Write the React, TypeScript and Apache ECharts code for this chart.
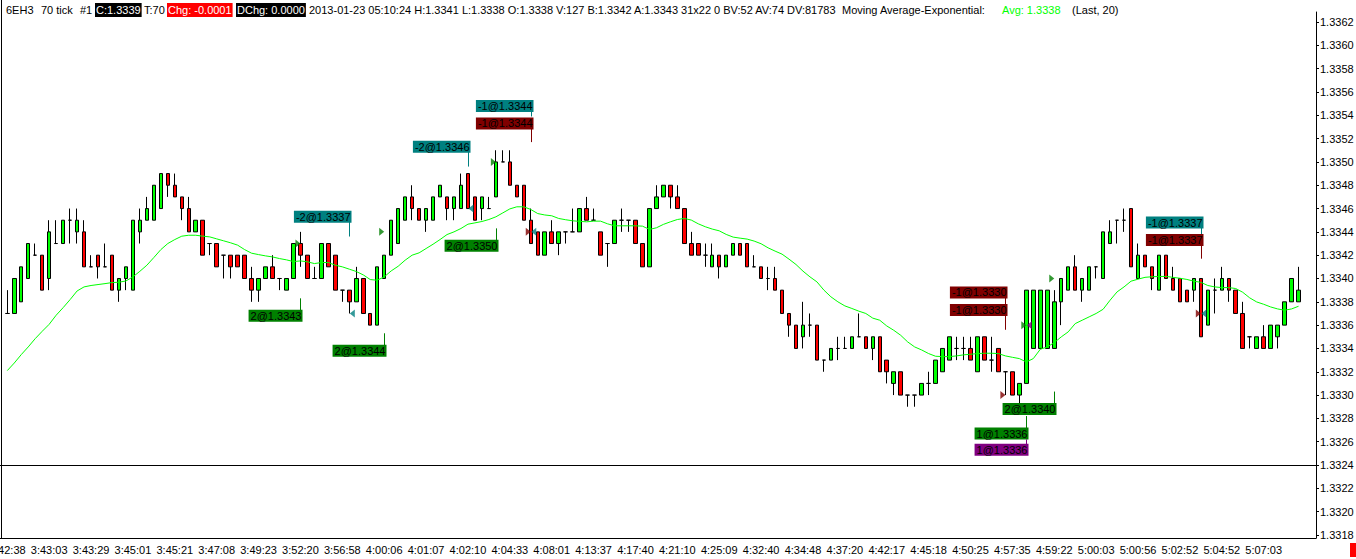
import React, { useEffect, useRef } from "react";
import * as echarts from "echarts";

// prices are stored as pips above BASE (1 pip = 0.0001)
const BASE = 1.33;
const PIP = 0.0001;
const px = (p: number) => +(BASE + p * PIP).toFixed(5);

const opens = [
  37, 37, 38, 40, 42, 42, 40, 43, 43, 45, 44, 44, 41, 42, 41, 42, 39, 40, 39, 44,
  45, 45, 46, 49, 48, 47, 46, 44, 45, 43, 43, 42, 42, 42, 42, 40, 39, 40, 41, 40,
  39, 40, 43, 42, 40, 40, 43, 42, 39, 39, 38, 40, 37, 36, 40, 42, 43, 45, 47, 46,
  45, 45, 47, 47, 46, 46, 49, 47, 46, 46, 47, 50, 50, 48, 48, 45, 44, 42, 44, 43,
  44, 44, 44, 46, 45, 44, 43, 43, 45, 45, 45, 43, 41, 46, 47, 48, 47, 46, 43, 43,
  42, 41, 42, 41, 42, 43, 43, 41, 41, 40, 40, 39, 37, 36, 35, 36, 36, 33, 33, 34,
  34, 34, 35, 35, 34, 35, 33, 31, 32, 30, 30, 30, 31, 31, 32, 33, 34, 34, 34, 32,
  35, 33, 34, 32, 32, 30, 31, 34, 34, 34, 34, 38, 39, 41, 39, 39, 41, 40, 43, 45,
  45, 46, 40, 42, 41, 39, 42, 40, 40, 39, 39, 40, 36, 39, 39, 40, 39, 37, 35, 34,
  35, 34, 35, 36, 38, 38,
];
const highs = [
  39, 40, 41, 43, 43, 42, 45, 45, 45, 46, 46, 45, 42, 42, 43, 42, 40, 41, 45, 46,
  47, 48, 49, 49, 49, 47, 47, 45, 45, 43, 43, 42, 42, 42, 42, 41, 40, 41, 42, 40,
  40, 43, 44, 42, 41, 43, 43, 42, 39, 39, 41, 40, 37, 41, 42, 45, 46, 47, 48, 46,
  46, 47, 48, 47, 47, 49, 49, 47, 47, 47, 51, 51, 51, 48, 48, 46, 44, 44, 45, 44,
  44, 46, 46, 47, 46, 44, 43, 45, 46, 45, 45, 43, 46, 48, 48, 48, 48, 46, 44, 43,
  43, 43, 42, 42, 43, 43, 43, 42, 41, 41, 41, 39, 37, 36, 38, 37, 36, 33, 34, 35,
  35, 35, 37, 35, 35, 35, 33, 32, 32, 30, 30, 31, 32, 33, 34, 35, 35, 35, 35, 35,
  35, 35, 34, 32, 32, 31, 39, 39, 39, 39, 39, 40, 41, 42, 40, 41, 41, 44, 45, 45,
  46, 46, 43, 42, 41, 42, 42, 41, 40, 39, 40, 40, 39, 40, 41, 40, 39, 38, 35, 35,
  36, 36, 36, 38, 40, 41,
];
const lows = [
  37, 37, 38, 40, 42, 39, 39, 43, 43, 43, 43, 41, 41, 40, 41, 39, 38, 39, 39, 43,
  45, 45, 46, 47, 47, 45, 44, 44, 42, 42, 41, 40, 40, 41, 40, 38, 38, 40, 40, 39,
  39, 40, 41, 40, 40, 40, 41, 39, 38, 37, 38, 37, 36, 36, 40, 42, 43, 45, 45, 45,
  44, 45, 47, 45, 45, 46, 46, 45, 45, 46, 47, 50, 48, 47, 45, 43, 42, 42, 43, 42,
  43, 44, 44, 45, 45, 42, 41, 43, 44, 44, 43, 41, 41, 46, 47, 46, 46, 43, 42, 42,
  41, 41, 40, 41, 42, 42, 41, 41, 40, 39, 39, 37, 35, 34, 34, 35, 33, 32, 33, 33,
  34, 34, 35, 34, 33, 32, 31, 30, 30, 29, 29, 30, 30, 31, 32, 33, 33, 33, 33, 32,
  33, 32, 32, 30, 30, 29, 31, 34, 34, 34, 34, 36, 39, 39, 38, 39, 40, 40, 43, 43,
  44, 41, 40, 41, 39, 39, 40, 39, 38, 38, 38, 35, 36, 37, 39, 38, 37, 34, 34, 34,
  34, 34, 34, 36, 38, 38,
];
const closes = [
  37, 40, 41, 43, 42, 39, 44, 43, 45, 45, 45, 41, 41, 41, 41, 39, 40, 41, 45, 45,
  46, 48, 49, 48, 47, 46, 44, 45, 42, 43, 41, 42, 41, 41, 40, 39, 40, 41, 40, 40,
  40, 43, 42, 40, 40, 43, 41, 39, 39, 38, 40, 37, 36, 41, 42, 45, 46, 47, 46, 45,
  46, 47, 48, 46, 47, 48, 46, 45, 47, 46, 50, 50, 48, 47, 45, 43, 42, 44, 43, 44,
  44, 44, 46, 45, 45, 42, 43, 45, 45, 45, 43, 41, 46, 47, 48, 47, 46, 43, 42, 42,
  42, 42, 41, 42, 43, 42, 41, 41, 40, 40, 39, 37, 36, 34, 36, 36, 33, 33, 34, 34,
  34, 35, 35, 34, 35, 32, 32, 32, 30, 30, 30, 31, 31, 33, 34, 35, 34, 34, 33, 35,
  33, 33, 32, 32, 30, 31, 39, 39, 39, 39, 38, 40, 41, 39, 40, 41, 41, 44, 44, 45,
  45, 41, 42, 41, 40, 42, 40, 39, 38, 38, 40, 35, 39, 39, 40, 39, 37, 34, 35, 35,
  34, 36, 36, 38, 40, 39,
];
// Moving Average-Exponential (20), in pips
const emaPips = [
  32.1, 32.75, 33.47, 34.13, 34.84, 35.47, 36.07, 36.85, 37.5, 38.19,
  38.93, 39.28, 39.4, 39.48, 39.56, 39.65, 39.68, 39.79, 40.14, 40.62,
  41.14, 41.8, 42.48, 43.0, 43.34, 43.63, 43.71, 43.71, 43.63, 43.57,
  43.4, 43.23, 43.06, 42.86, 42.48, 42.17, 42.05, 41.94, 41.85, 41.71,
  41.6, 41.45, 41.51, 41.43, 41.28, 41.37, 41.37, 41.14, 41.0, 40.8,
  40.6, 40.31, 39.91, 39.85, 40.14, 40.65, 41.05, 41.57, 42.0, 42.2,
  42.57, 42.94, 43.34, 43.77, 44.0, 44.29, 44.66, 44.77, 44.89, 45.06,
  45.29, 45.63, 45.97, 46.15, 46.15, 45.92, 45.57, 45.45, 45.38, 45.15,
  45.04, 44.95, 44.9, 44.86, 44.92, 44.92, 44.69, 44.52, 44.52, 44.52,
  44.52, 44.49, 44.21, 44.35, 44.64, 44.86, 45.06, 45.15, 45.01, 44.69,
  44.44, 44.24, 44.09, 43.78, 43.55, 43.46, 43.38, 43.21, 42.98, 42.63,
  42.35, 42.09, 41.66, 41.2, 40.63, 40.14, 39.71, 39.0, 38.43, 38.0,
  37.65, 37.43, 37.2, 37.0, 36.6, 36.42, 35.93, 35.56, 35.13, 34.56,
  34.13, 33.87, 33.56, 33.33, 33.3, 33.3, 33.36, 33.45, 33.5, 33.56,
  33.59, 33.59, 33.56, 33.36, 33.24, 33.13, 32.84, 33.13, 33.93, 34.13,
  34.5, 34.99, 35.42, 36.13, 36.42, 36.71, 37.0, 37.36, 38.14, 38.85,
  39.28, 39.77, 39.94, 40.1, 40.15, 40.17, 40.18, 40.1, 40.02, 39.92,
  39.77, 39.67, 39.4, 39.28, 39.22, 39.22, 39.14, 38.82, 38.34, 37.99,
  37.79, 37.56, 37.39, 37.28, 37.39, 37.62,
];

const xTickLabels = [
  "3:42:38", "3:43:03", "3:43:29", "3:45:01", "3:45:21", "3:47:08", "3:49:23", "3:52:20",
  "3:56:58", "4:00:06", "4:01:07", "4:02:10", "4:04:33", "4:08:01", "4:13:37", "4:17:40",
  "4:21:10", "4:25:09", "4:32:40", "4:34:48", "4:37:20", "4:42:17", "4:45:18", "4:50:25",
  "4:57:35", "4:59:22", "5:00:03", "5:00:56", "5:02:52", "5:04:52", "5:07:03",
];
const LABEL_EVERY = 6;
const yTickValues = [
  1.3318, 1.332, 1.3322, 1.3324, 1.3326, 1.3328, 1.333, 1.3332, 1.3334, 1.3336, 1.3338,
  1.334, 1.3342, 1.3344, 1.3346, 1.3348, 1.335, 1.3352, 1.3354, 1.3356, 1.3358, 1.336, 1.3362,
];
const Y_MIN = 1.331774;
const Y_MAX = 1.336286;
const DIVIDER = 1.3324;

// execution markers: bar index and price (pips)
const buyBars = [42, 54, 70, 150, 146];
const buyPrices = [43, 44, 50, 40, 36];
const sellBars = [49, 66, 75, 171];
const sellPrices = [37, 46, 44, 37];
const exitBars = [75, 143, 171];
const exitPrices = [44, 30, 37];
const entryBars = [146];
const entryPrices = [36];

// execution labels
const labelTexts = [
  "-2@1.3337", "2@1.3343", "2@1.3344", "-2@1.3346", "-1@1.3344", "-1@1.3344", "2@1.3350",
  "-1@1.3330", "-1@1.3330", "2@1.3340", "1@1.3336", "1@1.3336", "-1@1.3337", "-1@1.3337",
];
const labelBars = [49, 42, 54, 66, 75, 75, 70, 143, 143, 150, 146, 146, 171, 171];
const labelTips = [43.56, 38.33, 35.33, 49.56, 53.85, 51.71, 44.33, 37.81, 35.58, 30.35, 28.2, 26.15, 43.81, 41.67];
const labelBoxes = [45.27, 36.78, 33.78, 51.28, 54.8, 53.34, 42.79, 38.76, 37.25, 28.76, 26.7, 25.25, 44.76, 43.3];
const labelKinds = ["s", "b", "b", "s", "s", "x", "b", "x", "x", "b", "b", "p", "s", "x"];

const KIND_COLOR: Record<string, string> = { b: "#008000", s: "#008080", x: "#800000", p: "#800080" };
const FONT = '11px "Liberation Sans", Arial, sans-serif';
const SLOTS = 188;
const PLOT_RIGHT = 1316;

export default function App() {
  const ref = useRef<HTMLDivElement>(null);
  useEffect(() => {
    if (!ref.current) return;
    const chart = echarts.init(ref.current, null, { renderer: "svg" });
    const N = opens.length;
    const candles = opens.map((o, i) => [px(o), px(closes[i]), px(lows[i]), px(highs[i])]);
    const lastClose = px(closes[N - 1]);
    const showTick = (i: number) => i % LABEL_EVERY === 0 && i < N;
    const RIGHT = "path://M0,0L10,5L0,10Z";
    const LEFT = "path://M10,0L0,5L10,10Z";
    const tri = (name: string, bars: number[], prices: number[], color: string, sym: string, off: number) => ({
      type: "scatter",
      name,
      data: bars.map((b, i) => [b, px(prices[i])]),
      symbol: sym,
      symbolSize: [5, 8],
      symbolOffset: [off, 0],
      itemStyle: { color },
      z: 8,
      silent: true,
    });

    const hdr = (text: string, x: number, fill = "#000", bg?: string) => ({
      type: "text",
      x,
      y: 10,
      style: {
        text,
        fill,
        font: FONT,
        verticalAlign: "middle",
        backgroundColor: bg,
        padding: bg ? [2, 1, 1, 1] : 0,
      },
    });

    const option: any = {
      animation: false,
      backgroundColor: "#fff",
      grid: {
        left: 3.8,
        top: 12,
        width: PLOT_RIGHT - 3.8,
        height: 526,
        containLabel: false,
        outerBoundsMode: "none",
      },
      xAxis: {
        type: "category",
        data: Array.from({ length: SLOTS }, (_, i) => String(i)),
        boundaryGap: true,
        axisLine: { lineStyle: { color: "#000", width: 1 } },
        axisTick: { alignWithLabel: true, interval: (i: number) => showTick(i), length: 3, lineStyle: { color: "#000" } },
        axisLabel: {
          interval: (i: number) => showTick(i),
          formatter: (_v: string, i: number) => xTickLabels[i / LABEL_EVERY] ?? "",
          color: "#000",
          fontSize: 11,
          fontFamily: '"Liberation Sans", Arial',
          margin: 6,
          hideOverlap: false,
        },
        splitLine: { show: false },
      },
      yAxis: {
        type: "value",
        position: "right",
        min: Y_MIN,
        max: Y_MAX,
        axisLine: { show: true, lineStyle: { color: "#000" } },
        axisTick: { show: true, length: 3, customValues: yTickValues, lineStyle: { color: "#000" } },
        axisLabel: {
          customValues: yTickValues,
          formatter: (v: number) => v.toFixed(4),
          margin: 4,
          fontSize: 11,
          color: "#000",
          fontFamily: '"Liberation Sans", Arial',
        },
        splitLine: { show: false },
      },
      series: [
        {
          type: "candlestick",
          data: candles,
          barWidth: 4,
          itemStyle: {
            color: "#00ff00",
            color0: "#ff0000",
            borderColor: "#000",
            borderColor0: "#000",
            borderColorDoji: "#000",
            borderWidth: 1,
          },
          silent: true,
          z: 4,
          markLine: {
            silent: true,
            symbol: "none",
            animation: false,
            lineStyle: { opacity: 0 },
            data: [
              {
                yAxis: lastClose,
                label: {
                  show: true,
                  position: "end",
                  distance: 2,
                  formatter: lastClose.toFixed(4),
                  backgroundColor: "#000",
                  color: "#fff",
                  padding: [2, 3, 1, 2],
                  fontSize: 11,
                  fontFamily: '"Liberation Sans", Arial',
                },
              },
            ],
          },
        },
        {
          type: "line",
          data: emaPips.map((e) => BASE + e * PIP),
          symbol: "none",
          showSymbol: false,
          lineStyle: { color: "#00ff00", width: 1 },
          z: 6,
          silent: true,
        },
        tri("buy", buyBars, buyPrices, KIND_COLOR.b, RIGHT, -2.5),
        tri("exit", exitBars, exitPrices, KIND_COLOR.x, RIGHT, -2.5),
        tri("sell", sellBars, sellPrices, KIND_COLOR.s, LEFT, 3),
        tri("entry", entryBars, entryPrices, KIND_COLOR.p, LEFT, 3),
        {
          type: "custom",
          data: labelBars.map((b, i) => [b, px(labelTips[i]), px(labelBoxes[i])]),
          z: 10,
          silent: true,
          renderItem: (params: any, api: any) => {
            const i = params.dataIndex;
            const tip = api.coord([api.value(0), api.value(1)]);
            const box = api.coord([api.value(0), api.value(2)]);
            const color = KIND_COLOR[labelKinds[i]];
            const lx = Math.round(tip[0]) + 0.5;
            return {
              type: "group",
              children: [
                { type: "line", shape: { x1: lx, y1: tip[1], x2: lx, y2: box[1] }, style: { stroke: color, lineWidth: 1 } },
                {
                  type: "text",
                  x: lx + 2,
                  y: box[1],
                  style: {
                    text: labelTexts[i],
                    fill: "#000",
                    font: FONT,
                    align: "right",
                    verticalAlign: "middle",
                    backgroundColor: color,
                    padding: [1, 1, 0, 2],
                  },
                },
              ],
            };
          },
        },
      ],
      graphic: [
        { id: "lb", type: "line", shape: { x1: 1.5, y1: 0, x2: 1.5, y2: 538 }, style: { stroke: "#000", lineWidth: 1 } },
        { id: "bb", type: "line", shape: { x1: 0, y1: 538.5, x2: 6, y2: 538.5 }, style: { stroke: "#000", lineWidth: 1 } },
        { id: "rr", type: "rect", shape: { x: 1350, y: 543, width: 6, height: 14 }, style: { fill: "#ff0000" } },
        hdr("6EH3", 6),
        hdr("70 tick", 41),
        hdr("#1", 80),
        hdr("C:1.3339", 95, "#fff", "#000"),
        hdr("T:70", 144),
        hdr("Chg: -0.0001", 167, "#fff", "#ff0000"),
        hdr("DChg: 0.0000", 236, "#fff", "#000"),
        hdr("2013-01-23 05:10:24 H:1.3341 L:1.3338 O:1.3338 V:127 B:1.3342 A:1.3343 31x22 0 BV:52 AV:74 DV:81783", 309),
        hdr("Moving Average-Exponential:", 842),
        hdr("Avg: 1.3338", 1002, "#00ff00"),
        hdr("(Last, 20)", 1072),
      ],
    };
    chart.setOption(option);
    // panel divider line at DIVIDER price, positioned through the y scale
    const dy = chart.convertToPixel({ yAxisIndex: 0 }, DIVIDER) as number;
    const yLine = Math.round(dy) + 0.5;
    const g = option.graphic.slice();
    g.push({
      id: "divider",
      type: "line",
      z: 20,
      shape: { x1: 0, y1: yLine, x2: PLOT_RIGHT, y2: yLine },
      style: { stroke: "#000", lineWidth: 1 },
    });
    chart.setOption({ graphic: g });
    return () => chart.dispose();
  }, []);
  return (
    <div
      ref={ref}
      style={{ position: "absolute", left: 0, top: 0, width: 1356, height: 559, background: "#fff" }}
    />
  );
}
